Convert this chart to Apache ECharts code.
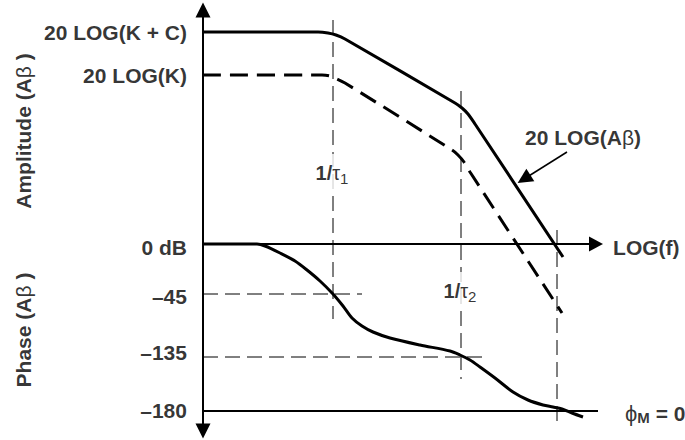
<!DOCTYPE html>
<html><head><meta charset="utf-8">
<script src="https://cdn.jsdelivr.net/npm/echarts@6/dist/echarts.min.js"></script>
<style>html,body{margin:0;padding:0;background:#fff}#c{width:685px;height:440px}</style>
</head><body><div id="c"></div>
<script>
// Diagram units: x = log-frequency distance from the vertical axis,
// y = level (0 = 0 dB on the amplitude half, 0 deg on the phase half).
const ampSolid = [[0,212],[115,212],[125,211],[133,209],[142,205],[252,141],[259,136],[265,130],[272,120],[360,-13]];
const ampDashed = [[0,169],[119,169],[127,168],[134,165],[142,161],[249,94],[255,89],[261,82],[267,72],[359,-69]];
const phaseCurve = [[0,0],[54,0],[62,-2],[77,-9],[92,-17],[104,-26],[117,-37],[130,-50],[140,-62],[149,-74],[159,-82],[170,-88],[187,-94],[217,-101],[247,-107],[257,-111],[267,-116],[277,-123],[292,-134],[310,-148],[325,-156],[340,-161],[350,-163],[359,-165],[369,-169],[380,-173]];
const tau1Guide = [[130,224],[130,-75]];
const tau2Guide = [[258,153],[258,-135]];
const crossGuide = [[354,14],[354,-179]];
const deg45Guide = [[0,-50],[159,-50]];
const deg135Guide = [[0,-113],[279,-113]];
const deg180Line = [[0,-167],[409,-167]];
const calloutArrow = [[364,92],[321,65]];
const levelTickLabels = ['20 LOG(K + C)','20 LOG(K)','0 dB','–45','–135','–180'];
const levelTickValues = [212,169,-3,-52,-108,-166];

const FONT = 'Arial, "Liberation Sans", Helvetica, sans-serif';
const B = {fontFamily: FONT, fontWeight: 'bold', fontSize: 21, color: '#000'};
const N = {fontFamily: FONT, fontWeight: 'normal', fontSize: 21, color: '#000'};
const ext = (base, more) => Object.assign({}, base, more);

function lineSeries(data, width, type, smooth) {
  return {type: 'line', data: data, showSymbol: false, symbol: 'none', smooth: smooth || false,
    clip: false, silent: true, animation: false,
    lineStyle: {color: '#000', width: width, type: type || 'solid', cap: 'butt'}};
}
const dashThin = [15, 7];

function textPoint(x, y, fmt, pos, rich, extra) {
  return {value: [x, y], label: Object.assign({show: true, position: pos, distance: 0, formatter: fmt, rich: rich}, extra || {})};
}

const tauRich = {
  b: ext(B, {fontSize: 20, lineHeight: 26}),
  g: ext(N, {fontSize: 20, lineHeight: 26}),
  s: ext(N, {fontSize: 15, lineHeight: 15, verticalAlign: 'bottom'})
};
const titleRich = {b: ext(B, {fontSize: 21}), g: ext(N, {fontSize: 21})};

const tickPoints = levelTickLabels.map((t, i) => textPoint(-16, levelTickValues[i], '{b|' + t + '}', 'left', {b: B}));
const otherPoints = [
  textPoint(-180, 113, '{b|Amplitude (A}{g|β}{b| )}', 'inside', titleRich, {rotate: 90}),
  textPoint(-180, -86, '{b|Phase (A}{g|β}{b| )}', 'inside', titleRich, {rotate: 90}),
  textPoint(129, 72, '{b|1/}{g|τ}{s|1}', 'inside', tauRich, {backgroundColor: '#fff', padding: [6, 1, 4, 1]}),
  textPoint(257, -46, '{b|1/}{g|τ}{s|2}', 'inside', tauRich, {backgroundColor: '#fff', padding: [6, 1, 4, 1]}),
  textPoint(322, 107, '{b|20 LOG(A}{g|β}{b|)}', 'right', {b: B, g: N}),
  textPoint(410, -3, '{b|LOG(f)}', 'right', {b: B}),
  textPoint(422, -169, '{g|ϕ}{s|M}{b| = 0}', 'right', {g: ext(N, {fontSize: 22, lineHeight: 24}), s: ext(B, {fontSize: 15, lineHeight: 15, verticalAlign: 'bottom'}), b: ext(B, {lineHeight: 24})})
];

const chart = echarts.init(document.getElementById('c'), null, {renderer: 'svg'});
chart.setOption({
  backgroundColor: '#fff',
  animation: false,
  grid: {left: 203, right: 89, top: 10, bottom: 9, containLabel: false},
  xAxis: {type: 'value', min: 0, max: 393,
    axisLine: {show: true, onZero: true, symbol: ['none', 'triangle'], symbolSize: [15, 14], lineStyle: {color: '#000', width: 2}},
    axisTick: {show: false}, axisLabel: {show: false}, splitLine: {show: false}},
  yAxis: {type: 'value', min: -187, max: 234,
    axisLine: {show: true, onZero: false, symbol: ['triangle', 'triangle'], symbolSize: [15, 15], lineStyle: {color: '#000', width: 2}},
    axisTick: {show: false}, axisLabel: {show: false}, splitLine: {show: false}},
  series: [
    lineSeries(tau1Guide, 1, dashThin),
    lineSeries(tau2Guide, 1, dashThin),
    lineSeries(crossGuide, 1, dashThin),
    lineSeries(deg45Guide, 1, dashThin),
    lineSeries(deg135Guide, 1, dashThin),
    lineSeries(deg180Line, 2.2),
    lineSeries(ampSolid, 3, 'solid', 0.3),
    lineSeries(ampDashed, 3, [18, 9], 0.3),
    lineSeries(phaseCurve, 3, 'solid', 0.3),
    {type: 'lines', coordinateSystem: 'cartesian2d', silent: true, animation: false,
      symbol: ['none', 'triangle'], symbolSize: 15,
      lineStyle: {color: '#000', width: 1.5, opacity: 1},
      data: [{coords: calloutArrow}]},
    {type: 'scatter', symbol: 'circle', symbolSize: 0.1, silent: true, clip: false, animation: false,
      itemStyle: {color: 'transparent'}, z: 5,
      data: tickPoints.concat(otherPoints)}
  ]
});
</script></body></html>
